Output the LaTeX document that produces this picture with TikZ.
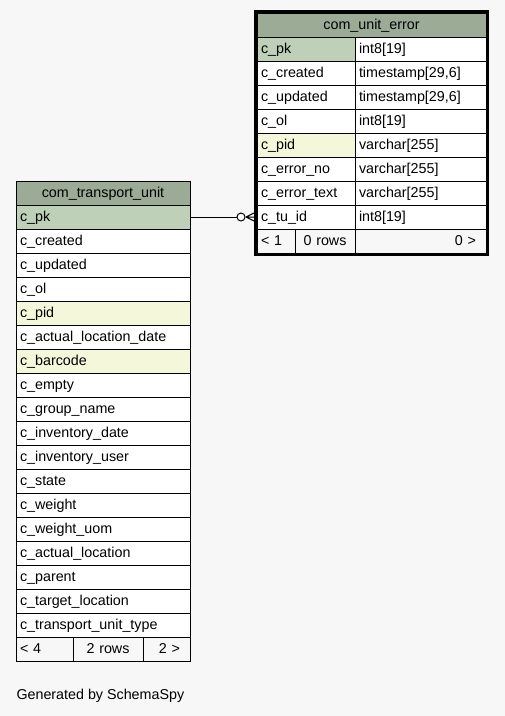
\documentclass[tikz,border=0pt]{standalone}
\usepackage{fontspec}
\setmainfont{Liberation Sans}
\usepackage{xcolor}
\usetikzlibrary{positioning}

\definecolor{pagebg}{HTML}{F7F7F7}
\definecolor{headbg}{HTML}{9BAB96}
\definecolor{pkbg}{HTML}{BED1B8}
\definecolor{idxbg}{HTML}{F4F7DA}

\begin{document}
\begin{tikzpicture}[
    x=1pt, y=-1pt, line width=1pt,
    font=\fontsize{14.3}{17}\selectfont,
    cell/.style={draw, rectangle, anchor=north west, fill=white, outer sep=0pt,
        minimum height=24pt, inner xsep=4pt, inner ysep=0pt,
        text height=11.5pt, text depth=3pt,
        minimum width=#1, text width=#1-8pt, align=left},
    head/.style={cell=#1, fill=headbg, align=center},
    foot/.style={cell=#1, fill=pagebg}
]
    \fill[pagebg] (0,0) rectangle (505,716);

    % com_transport_unit
    \node[head=174pt] (tuh) at (16,181) {com\_transport\_unit};
    \foreach \col/\bg [count=\i from 0] in {
        c\_pk/pkbg, c\_created/white, c\_updated/white, c\_ol/white,
        c\_pid/idxbg, c\_actual\_location\_date/white, c\_barcode/idxbg,
        c\_empty/white, c\_group\_name/white, c\_inventory\_date/white,
        c\_inventory\_user/white, c\_state/white, c\_weight/white,
        c\_weight\_uom/white, c\_actual\_location/white, c\_parent/white,
        c\_target\_location/white, c\_transport\_unit\_type/white}
        \node[cell=174pt, fill=\bg] (tu\i) at (16,205+24*\i) {\col};
    \node[foot=57pt] (tuf1) at (16,637) {< 4};
    \node[foot=70pt, align=center] (tuf2) at (tuf1.north east) {2 rows};
    \node[foot=47pt, text width=27pt, align=right] (tuf3) at (tuf2.north east) {2 >};

    % com_unit_error
    \node[head=229pt] (ueh) at (257,13) {com\_unit\_error};
    \foreach \col/\typ/\bg [count=\i from 0] in {
        {c\_pk/int8[19]/pkbg}, {c\_created/timestamp[29,6]/white},
        {c\_updated/timestamp[29,6]/white}, {c\_ol/int8[19]/white},
        {c\_pid/varchar[255]/idxbg}, {c\_error\_no/varchar[255]/white},
        {c\_error\_text/varchar[255]/white}, {c\_tu\_id/int8[19]/white}} {
        \node[cell=98pt, fill=\bg] (ue\i) at (257,37+24*\i) {\col};
        \node[cell=131pt] (uet\i) at (ue\i.north east) {\typ};
    }
    \node[foot=38pt] (uef1) at (257,229) {< 1};
    \node[foot=60pt, align=center] (uef2) at (uef1.north east) {0 rows};
    \node[foot=131pt, text width=111pt, align=right] (uef3) at (uef2.north east) {0 >};
    \draw[line width=3pt] ([shift={(-1.5,-1.5)}]ueh.north west)
        rectangle ([shift={(1.5,1.5)}]uef3.south east);

    % c_tu_id -> c_pk
    \coordinate (dot) at ([xshift=-16pt]ue7.west);
    \coordinate (crow) at ([xshift=-11pt]ue7.west);
    \draw (tu0.east) -- ([xshift=-4pt]dot);
    \draw[fill=white] (dot) circle[radius=4pt];
    \draw (crow) -- ++(8,-4) (crow) -- ++(8,0) (crow) -- ++(8,4);

    \node[anchor=base west, inner sep=0pt] (gen) at (16,699) {Generated by SchemaSpy};
\end{tikzpicture}
\end{document}
